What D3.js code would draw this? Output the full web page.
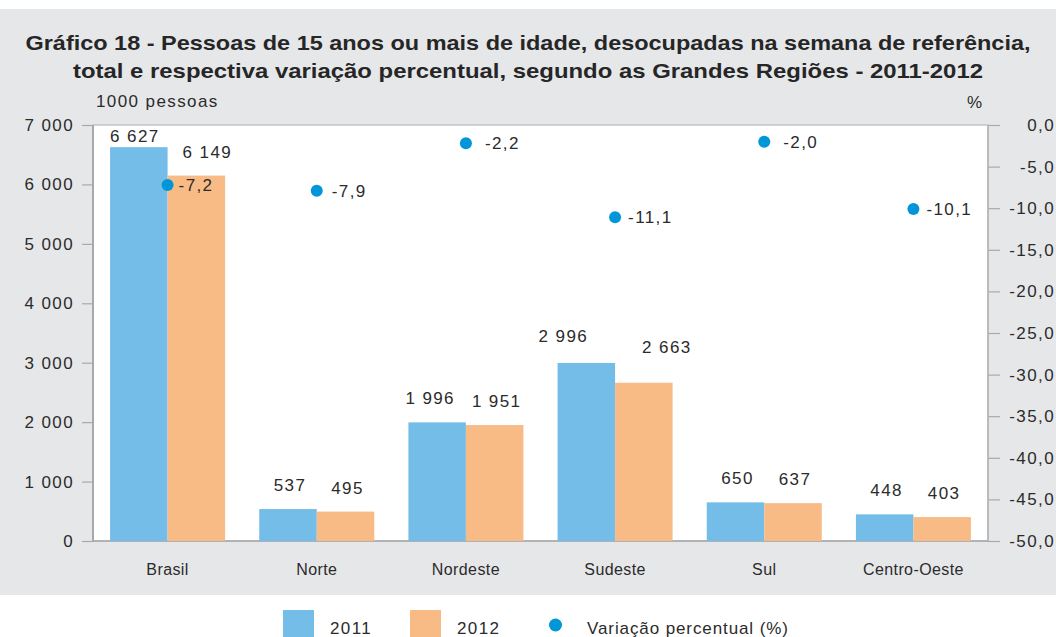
<!DOCTYPE html>
<html>
<head>
<meta charset="utf-8">
<script src="https://cdn.jsdelivr.net/npm/d3@7"></script>
<style>
  body { margin: 0; background: #fff; }
  text { font-family: "Liberation Sans", Arial, sans-serif; fill: #2b2b2b; }
</style>
</head>
<body>
<div id="chart"></div>
<script>
// data
var categories = ["Brasil", "Norte", "Nordeste", "Sudeste", "Sul", "Centro-Oeste"];
var series = ["2011", "2012"];
var values2011 = [6627, 537, 1996, 2996, 650, 448];
var values2012 = [6149, 495, 1951, 2663, 637, 403];
var variacao = [-7.2, -7.9, -2.2, -11.1, -2.0, -10.1];
var leftTicks = [0, 1000, 2000, 3000, 4000, 5000, 6000, 7000];
var rightTicks = [-50, -45, -40, -35, -30, -25, -20, -15, -10, -5, 0];
var titleLines = [
  "Gráfico 18 - Pessoas de 15 anos ou mais de idade, desocupadas na semana de referência,",
  "total e respectiva variação percentual, segundo as Grandes Regiões - 2011-2012"
];

var width = 1056, height = 637;
var plot = {left: 93, right: 988, top: 125, bottom: 541};
var colors = {"2011": "#74bde8", "2012": "#f9bb86"};
var dotColor = "#0096d8";

var pt = d3.formatLocale({decimal: ",", thousands: " ", grouping: [3], currency: ["", ""], minus: "-"});
var fmtInt = pt.format(",d"), fmtDec = pt.format(",.1f");

var svg = d3.select("#chart").append("svg")
    .attr("width", width)
    .attr("height", height);

// gray panel + white plot area
svg.append("rect").attr("x", 0).attr("y", 9).attr("width", width).attr("height", 586).attr("fill", "#e6e7e9");
svg.append("rect")
    .attr("x", plot.left).attr("y", plot.top)
    .attr("width", plot.right - plot.left).attr("height", plot.bottom - plot.top)
    .attr("fill", "#fff").attr("stroke", "#c3c4c6").attr("stroke-width", 1.5);

// title
svg.selectAll(".title").data(titleLines).enter().append("text")
    .attr("x", width / 2)
    .attr("y", function(d, i) { return 50 + i * 28; })
    .attr("text-anchor", "middle")
    .attr("textLength", function(d, i) { return i == 0 ? 1005 : 910; })
    .attr("lengthAdjust", "spacingAndGlyphs")
    .style("font-family", "'Liberation Sans Narrow', 'Arial Narrow', 'Liberation Sans', sans-serif")
    .style("font-weight", "bold")
    .style("font-size", "21px")
    .style("fill", "#262626")
    .text(function(d) { return d; });

var x = d3.scaleBand().domain(categories)
    .range([plot.left, plot.right])
    .paddingInner(0.229).paddingOuter(0.1145);
var xs = d3.scaleBand().domain(series).range([0, x.bandwidth()]);
var y = d3.scaleLinear().domain([0, 7000]).range([plot.bottom, plot.top]);
var y2 = d3.scaleLinear().domain([-50, 0]).range([plot.bottom, plot.top]);

var labelStyle = function(sel) {
  sel.style("font-size", "17px").style("letter-spacing", "1.4px").style("fill", "#2b2b2b");
};

// left axis
var gl = svg.append("g").attr("transform", "translate(" + plot.left + ",0)")
    .call(d3.axisLeft(y).tickValues(leftTicks).tickSize(11).tickPadding(8).tickFormat(fmtInt));
gl.select(".domain").remove();
gl.selectAll("line").attr("stroke", "#a7a9ac").attr("stroke-width", 1.2);
gl.selectAll("text").call(labelStyle).attr("font-family", null);

// right axis
var gr = svg.append("g").attr("transform", "translate(" + plot.right + ",0)")
    .call(d3.axisRight(y2).tickValues(rightTicks).tickSize(12).tickFormat(fmtDec));
gr.select(".domain").remove();
gr.selectAll("line").attr("stroke", "#a7a9ac").attr("stroke-width", 1.2);
gr.selectAll("text").call(labelStyle).attr("text-anchor", "end").attr("x", width - 1 - plot.right).attr("font-family", null);

// axis borders
svg.append("line").attr("x1", plot.left).attr("x2", plot.left).attr("y1", plot.top).attr("y2", plot.bottom)
    .attr("stroke", "#a7a9ac").attr("stroke-width", 2);
svg.append("line").attr("x1", plot.right).attr("x2", plot.right).attr("y1", plot.top).attr("y2", plot.bottom)
    .attr("stroke", "#b3b5b8").attr("stroke-width", 1.5);
svg.append("line").attr("x1", plot.left).attr("x2", plot.right).attr("y1", plot.bottom).attr("y2", plot.bottom)
    .attr("stroke", "#a7a9ac").attr("stroke-width", 1.5);

// axis units
svg.append("text").attr("x", 96).attr("y", 107).call(labelStyle).text("1000 pessoas");
svg.append("text").attr("x", 967).attr("y", 108).call(labelStyle).text("%");

// bars
var rows = categories.map(function(c, i) {
  return {cat: c, vals: [{s: "2011", v: values2011[i]}, {s: "2012", v: values2012[i]}]};
});
var groups = svg.append("g").selectAll("g").data(rows).enter().append("g")
    .attr("transform", function(d) { return "translate(" + x(d.cat) + ",0)"; });
groups.selectAll("rect").data(function(d) { return d.vals; }).enter().append("rect")
    .attr("x", function(d) { return xs(d.s); })
    .attr("y", function(d) { return y(d.v); })
    .attr("width", xs.bandwidth())
    .attr("height", function(d) { return plot.bottom - y(d.v); })
    .attr("fill", function(d) { return colors[d.s]; });

// bar value labels (a few were moved by hand in the original)
var nudge = {"Brasil-2011": [-6, 13], "Brasil-2012": [9, 0], "Nordeste-2011": [-9, 0],
             "Sudeste-2011": [-25, -3], "Sudeste-2012": [21, -12]};
groups.each(function(r) {
  d3.select(this).selectAll(".val").data(r.vals).enter().append("text")
      .attr("class", "val")
      .attr("text-anchor", "middle")
      .attr("x", function(d) { var n = nudge[r.cat + "-" + d.s] || [0, 0]; return xs(d.s) + xs.bandwidth() / 2 + 2 + n[0]; })
      .attr("y", function(d) { var n = nudge[r.cat + "-" + d.s] || [0, 0]; return y(d.v) - 18 + n[1]; })
      .call(labelStyle)
      .text(function(d) { return fmtInt(d.v); });
});

// category labels
svg.selectAll(".cat").data(categories).enter().append("text")
    .attr("x", function(d) { return x(d) + x.bandwidth() / 2; })
    .attr("y", 575)
    .attr("text-anchor", "middle")
    .style("font-size", "16px").style("letter-spacing", "0.4px")
    .text(function(d) { return d; });

// variation dots
var dotGap = {"Brasil": 11, "Norte": 15, "Nordeste": 19, "Sul": 19};
svg.selectAll(".dot").data(variacao).enter().append("circle")
    .attr("cx", function(d, i) { return x(categories[i]) + x.bandwidth() / 2; })
    .attr("cy", function(d) { return y2(d); })
    .attr("r", 6)
    .attr("fill", dotColor);
svg.selectAll(".dotlab").data(variacao).enter().append("text")
    .attr("x", function(d, i) { return x(categories[i]) + x.bandwidth() / 2 + (dotGap[categories[i]] || 13); })
    .attr("y", function(d) { return y2(d); })
    .attr("dy", "0.36em")
    .call(labelStyle)
    .text(function(d) { return fmtDec(d); });

// legend
var legend = svg.append("g");
var legItems = [
  {label: series[0], type: "rect", color: colors["2011"], x: 283},
  {label: series[1], type: "rect", color: colors["2012"], x: 410},
  {label: "Variação percentual (%)", type: "dot", color: dotColor, x: 549}
];
legItems.forEach(function(it) {
  if (it.type == "rect") {
    legend.append("rect").attr("x", it.x).attr("y", 610).attr("width", 31).attr("height", 27).attr("fill", it.color);
    legend.append("text").attr("x", it.x + 47).attr("y", 634).call(labelStyle).text(it.label);
  } else {
    legend.append("circle").attr("cx", it.x + 6.5).attr("cy", 625).attr("r", 6.5).attr("fill", it.color);
    legend.append("text").attr("x", it.x + 38).attr("y", 634).call(labelStyle).style("letter-spacing", "0.9px").text(it.label);
  }
});
</script>
</body>
</html>
